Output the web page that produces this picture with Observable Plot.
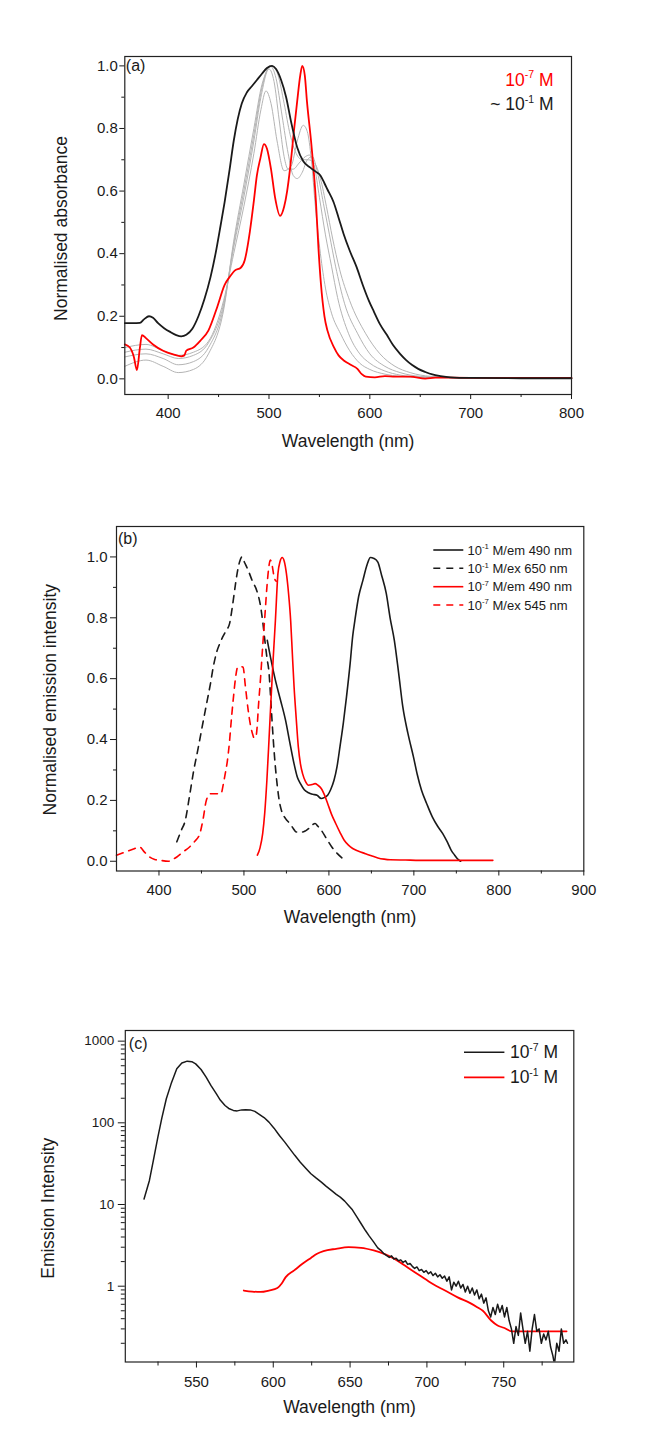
<!DOCTYPE html>
<html><head><meta charset="utf-8">
<script src="https://cdn.jsdelivr.net/npm/d3@7"></script>
<script src="https://cdn.jsdelivr.net/npm/@observablehq/plot@0.6"></script>
<style>
body{margin:0;background:#fff;}
#wrap{position:relative;width:657px;height:1432px;overflow:hidden;}
.panel{position:absolute;left:0;}
</style></head><body><div id="wrap"></div>
<script>
// ---------- Panel (a): normalised absorbance ----------
const absRed = [[357,0.11],[362,0.10],[366,0.07],[369,0.028],[372,0.10],[374,0.14],[378,0.13],[385,0.11],[395,0.09],[405,0.078],[413,0.072],[416,0.075],[418,0.09],[425,0.10],[432,0.122],[440,0.155],[448.6,0.229],[456,0.30],[462,0.33],[466,0.346],[472,0.355],[476,0.38],[481,0.47],[485,0.569],[488,0.65],[491.6,0.707],[495,0.75],[498,0.735],[502,0.67],[506,0.58],[511,0.521],[515,0.55],[518,0.60],[521,0.675],[525,0.80],[528,0.888],[531,0.97],[533,1.0],[535.5,0.97],[537.6,0.888],[542,0.75],[546.5,0.569],[549,0.42],[551.5,0.304],[555,0.20],[558,0.154],[564.6,0.10],[569,0.075],[574.5,0.058],[581,0.045],[587.7,0.032],[592,0.015],[596,0.007],[605,0.005],[615,0.009],[625,0.007],[640,0.007],[655,0.001],[665,0.004],[700,0.003],[800,0.003]];
const absBlack = [[357,0.178],[365,0.178],[372,0.179],[376,0.19],[381,0.200],[385,0.195],[390,0.178],[396,0.162],[402,0.150],[408,0.140],[413,0.136],[418,0.141],[424,0.16],[430,0.20],[436,0.255],[442,0.325],[447,0.40],[452,0.49],[456,0.565],[461,0.67],[465,0.76],[469,0.83],[473,0.88],[478,0.915],[483,0.935],[488,0.955],[493,0.975],[498,0.993],[503,1.0],[507,0.99],[512,0.955],[517,0.9],[522,0.82],[528,0.739],[534,0.695],[541,0.675],[546,0.663],[551,0.65],[555,0.625],[558,0.605],[564,0.565],[569,0.515],[574,0.463],[580,0.41],[587,0.356],[593,0.30],[599,0.25],[604,0.215],[610,0.175],[617,0.14],[623,0.108],[630,0.08],[636,0.06],[642,0.044],[648,0.032],[655,0.022],[662,0.014],[670,0.009],[680,0.005],[700,0.003],[750,0.002],[800,0.002]];
const absGray1 = [[357,0.10],[378,0.11],[395,0.09],[410,0.075],[425,0.085],[440,0.12],[455,0.25],[465,0.40],[475,0.55],[485,0.72],[492,0.86],[497,0.92],[502,0.88],[508,0.76],[515,0.665],[522,0.68],[528,0.76],[534,0.81],[538,0.79],[542,0.70],[546,0.55],[551,0.40],[556,0.29],[562,0.21],[571,0.144],[580,0.09],[590,0.05],[600,0.03],[615,0.015],[630,0.008],[660,0.004],[800,0.003]];
const absGray2 = [[357,0.085],[378,0.095],[395,0.08],[410,0.065],[425,0.075],[440,0.115],[455,0.24],[465,0.42],[475,0.58],[485,0.76],[492,0.90],[500,0.99],[505,0.95],[510,0.83],[515,0.71],[519,0.67],[524,0.67],[530,0.69],[536,0.71],[540,0.715],[545,0.68],[550,0.58],[556,0.46],[562,0.36],[568,0.26],[579,0.144],[590,0.08],[600,0.05],[615,0.025],[630,0.012],[650,0.006],[680,0.004],[800,0.003]];
const absGray3 = [[357,0.07],[378,0.08],[395,0.065],[410,0.045],[425,0.055],[440,0.10],[455,0.23],[465,0.43],[475,0.60],[485,0.78],[493,0.93],[501,1.0],[507,0.96],[513,0.84],[519,0.72],[524,0.65],[528,0.64],[533,0.66],[538,0.70],[543,0.71],[548,0.66],[554,0.56],[560,0.46],[566,0.36],[575,0.24],[588,0.144],[600,0.08],[615,0.04],[630,0.02],[650,0.008],[680,0.004],[800,0.003]];
const absGray4 = [[357,0.04],[378,0.06],[395,0.04],[410,0.02],[425,0.03],[440,0.08],[455,0.22],[465,0.44],[475,0.62],[485,0.80],[493,0.94],[503,1.0],[509,0.97],[515,0.88],[521,0.78],[527,0.72],[533,0.70],[539,0.70],[545,0.69],[551,0.64],[557,0.55],[563,0.45],[570,0.35],[580,0.25],[596,0.144],[610,0.08],[625,0.04],[640,0.02],[660,0.008],[690,0.004],[800,0.003]];
const legendA = ["10^-7 M", "~ 10^-1 M"];
const ticksAx = [400,500,600,700,800], minorAx = [450,550,650,750];
const ticksAy = [0,0.2,0.4,0.6,0.8,1.0], minorAy = [0.1,0.3,0.5,0.7,0.9];

// ---------- Panel (b): normalised emission ----------
const emBlackEm = [[527.5,0.726],[532,0.66],[537,0.595],[543,0.53],[549,0.463],[554,0.39],[559,0.32],[563,0.275],[566.5,0.255],[571,0.235],[576,0.225],[581,0.22],[586,0.217],[591,0.206],[595,0.21],[598.5,0.217],[602,0.235],[606,0.266],[609.5,0.31],[613,0.376],[617,0.455],[620.7,0.54],[625,0.65],[628,0.74],[630.5,0.79],[635,0.87],[640,0.923],[645,0.975],[648.8,0.998],[653,0.995],[657.6,0.983],[662,0.94],[667.5,0.88],[672,0.8],[677,0.726],[682,0.62],[687,0.507],[693,0.42],[699.5,0.343],[704,0.285],[709,0.233],[715,0.19],[721.7,0.146],[728,0.115],[734,0.091],[739,0.065],[744,0.036],[748,0.02],[751,0.009],[755,0.0]];
const emBlackEx = [[421,0.064],[426,0.1],[431,0.135],[436,0.215],[441,0.30],[446,0.37],[450.7,0.44],[455.5,0.51],[460.6,0.584],[464,0.64],[468,0.688],[471.5,0.715],[475,0.737],[479,0.758],[483,0.78],[485.5,0.82],[487.7,0.863],[490,0.91],[492.6,0.956],[495,0.985],[497.5,1.0],[501,0.98],[505,0.956],[510,0.92],[515,0.89],[519.7,0.836],[522,0.79],[524.6,0.726],[527,0.67],[529.6,0.617],[532,0.51],[534.5,0.40],[537,0.31],[539.4,0.244],[541.5,0.2],[544,0.168],[549,0.14],[554,0.124],[558,0.108],[561.6,0.096],[565,0.096],[569,0.096],[572.5,0.1],[576,0.107],[580,0.118],[583.7,0.124],[587,0.115],[591,0.102],[597,0.075],[603.4,0.047],[610,0.025],[618,0.005]];
const emRedEm = [[515.8,0.02],[519,0.045],[522,0.09],[524.5,0.16],[527,0.266],[529.5,0.4],[532,0.54],[534.5,0.67],[537,0.79],[540,0.945],[542.5,0.985],[545,0.998],[547.5,0.985],[550,0.945],[552.5,0.88],[555,0.79],[557,0.68],[559,0.573],[561.5,0.47],[564,0.376],[566.5,0.32],[569,0.288],[572.5,0.262],[576,0.25],[580,0.252],[583.7,0.255],[587,0.25],[591,0.239],[594.5,0.22],[598.5,0.19],[603,0.155],[608,0.124],[613,0.095],[618,0.069],[623,0.053],[628,0.042],[635,0.033],[643,0.025],[650,0.018],[657.6,0.011],[665,0.007],[672,0.005],[690,0.004],[707,0.003],[750,0.003],[793,0.003]];
const emRedEx = [[350,0.02],[360,0.03],[370,0.04],[377,0.047],[383,0.03],[389,0.014],[395,0.006],[401.5,0.003],[411,0.0],[416,0.006],[421,0.014],[428,0.03],[436,0.047],[442,0.065],[448,0.09],[452,0.14],[455.7,0.20],[460.6,0.222],[466,0.222],[473,0.222],[475.5,0.25],[478,0.288],[480.5,0.33],[482.8,0.387],[485,0.46],[487.7,0.54],[490,0.6],[492.6,0.638],[496,0.64],[499,0.638],[501.5,0.58],[505,0.496],[507.5,0.45],[510,0.42],[512,0.405],[514,0.408],[515.5,0.44],[517,0.507],[519.5,0.6],[522,0.704],[524.5,0.8],[527,0.90],[529,0.96],[531,0.99],[533,0.975],[535.5,0.934],[538,0.92]];
const legendB = ["10^-1 M/em 490 nm", "10^-1 M/ex 650 nm", "10^-7 M/em 490 nm", "10^-7 M/ex 545 nm"];
const ticksBx = [400,500,600,700,800,900], minorBx = [450,550,650,750,850];
const ticksBy = [0,0.2,0.4,0.6,0.8,1.0], minorBy = [0.1,0.3,0.5,0.7,0.9];

// ---------- Panel (c): emission intensity (log) ----------
const intBlack = [[515.9,11.7],[519.4,19.7],[522,35],[524.9,66.7],[527.5,115],[530.4,197],[533.5,300],[537.2,458],[540.5,540],[544,569],[547,560],[549.5,527],[553,450],[556.3,362],[559.5,285],[563,226],[565.5,190],[568.6,163],[571,150],[574,142],[576.5,140],[579.5,144],[582,145],[585,144],[588,138],[590.4,129],[594,116],[597.2,102],[600.5,86],[604,70],[607.5,58],[610.8,48],[614,40],[617.6,33],[621,28],[624.5,23.8],[628,21],[631.3,18.8],[634.5,16.7],[638,14.8],[641,13.3],[643.6,12.3],[646.5,11],[649,9.7],[651.5,8.6],[654.5,7.0],[657,5.9],[660,4.8],[662.5,4.1],[665.4,3.46],[668,2.95],[670,2.75],[672,2.5],[673.6,2.38],
 [675.5,2.25],[677,2.35],[678.5,2.15],[680,2.2],[681.5,2.05],[683,2.1],[684.5,1.95],[686,2.05],[687.5,1.85],[689,1.9],[690.5,1.75],[692,1.65],[693.5,1.72],[695,1.55],[696.5,1.6],[698,1.48],[699.5,1.55],[701,1.42],[702.5,1.5],[704,1.35],[705.5,1.44],[707,1.3],[708.5,1.38],[710,1.25],[711.5,1.33],[713,1.15],[714.5,1.3],[716,0.9],[717.5,1.12],[719,1.0],[720.5,1.15],[722,0.95],[723.5,1.05],[725,0.85],[726.5,1.0],[728,0.82],[729.5,0.95],[731,0.78],[732.5,0.9],[734,0.7],[735.5,0.8],[737,0.62],[738.5,0.72],[740,0.5],[741.5,0.42],[743,0.55],[744.5,0.45],[746,0.6],[747.5,0.48],[749,0.58],[750.5,0.42],[752,0.55],[753.5,0.38],[755,0.3],[756.5,0.2],[758,0.32],[759.5,0.25],[761,0.47],[762.5,0.3],[764,0.2],[765.5,0.28],[767,0.16],[768.5,0.3],[770,0.45],[771.5,0.28],[773,0.3],[774.5,0.2],[776,0.26],[777.5,0.22],[779,0.28],[780.5,0.18],[782,0.14],[783,0.11],[784.5,0.2],[786,0.16],[787.5,0.3],[789,0.2],[790.5,0.22],[791.5,0.2]];
const intRed = [[580.8,0.885],[586.3,0.86],[591.7,0.85],[597.2,0.885],[602.7,0.95],[605.5,1.08],[608.1,1.29],[613.6,1.56],[619,1.88],[624.5,2.22],[628.5,2.5],[632.7,2.69],[640.9,2.87],[649,3.0],[657.2,2.95],[665.4,2.74],[672.2,2.49],[679,2.16],[687.2,1.71],[695.4,1.35],[703.6,1.07],[711.8,0.885],[720,0.73],[728.2,0.62],[733,0.55],[736.4,0.5],[741.8,0.38],[746,0.33],[750,0.31],[755.5,0.28],[790.9,0.28]];
const legendC = ["10^-7 M", "10^-1 M"];
const ticksCx = [550,600,650,700,750], minorCx = [525,575,625,675,725,775];
const ticksCy = [1,10,100,1000], minorCy = [0.2,0.3,0.4,0.5,0.6,0.7,0.8,0.9,2,3,4,5,6,7,8,9,20,30,40,50,60,70,80,90,200,300,400,500,600,700,800,900];

// ---------- helpers ----------
const FONT = '"Liberation Sans", Arial, Helvetica, sans-serif';
const RED = "#ff0000", INK = "#1a1a1a", GRAY = "#b4b4b4";
const rows = a => a.map(([x, y]) => ({x, y}));
const wrap = document.getElementById("wrap");

function mount(svg, top) {
  const d = document.createElement("div");
  d.className = "panel"; d.style.top = top + "px";
  d.append(svg); wrap.append(d);
  supify(svg);
  return svg;
}
function supify(svg) {
  const ns = "http://www.w3.org/2000/svg";
  svg.querySelectorAll("text").forEach(t => {
    if (t.querySelector("tspan")) return;
    const m = t.textContent.match(/^(.*?10)\^(-\d)(.*)$/);
    if (!m) return;
    const fs = parseFloat(getComputedStyle(t).fontSize);
    t.textContent = "";
    const a = document.createElementNS(ns, "tspan"); a.textContent = m[1];
    const b = document.createElementNS(ns, "tspan"); b.textContent = m[2];
    b.setAttribute("font-size", (fs * 0.6).toFixed(2)); b.setAttribute("dy", (-fs * 0.42).toFixed(2));
    const c = document.createElementNS(ns, "tspan"); c.textContent = m[3];
    c.setAttribute("dy", (fs * 0.42).toFixed(2));
    t.append(a, b, c);
  });
}
function swatches(svg, styles, x1, x2, ys) {
  const g = d3.select(svg).append("g");
  styles.forEach((s, i) => g.append("line")
    .attr("x1", x1).attr("x2", x2).attr("y1", ys[i]).attr("y2", ys[i])
    .attr("stroke", s.stroke).attr("stroke-width", s.width)
    .attr("stroke-dasharray", s.dash || null));
}
function axes(tx, mx, ty, my, o = {}) {
  return [
    Plot.axisX({ticks: tx, tickSize: o.xt || 5, tickPadding: 8, label: null, fontSize: 15, tickFormat: d => String(d)}),
    Plot.axisX({ticks: mx, tickSize: o.xm || 3, label: null, tickFormat: () => ""}),
    Plot.axisY({ticks: ty, tickSize: o.yt || 5, tickPadding: o.yp || 2, label: null, fontSize: o.yf || 15, tickFormat: o.yfmt || (d => d.toFixed(1))}),
    Plot.axisY({ticks: my, tickSize: o.ym || 3, label: null, tickFormat: () => ""})
  ];
}
const baseStyle = {fontFamily: FONT, fontSize: "15px", color: INK, background: "#fff", overflow: "visible"};

// ---------- Panel (a) ----------
const pa = Plot.plot({
  width: 657, height: 470,
  marginTop: 56, marginBottom: 76, marginLeft: 124.3, marginRight: 86,
  style: baseStyle,
  x: {domain: [357, 800], label: null},
  y: {domain: [-0.05, 1.03], label: null},
  marks: [
    ...[absGray1, absGray2, absGray3, absGray4].map(g => Plot.line(rows(g), {x: "x", y: "y", stroke: GRAY, strokeWidth: 1, curve: "monotone-x"})),
    Plot.line(rows(absRed), {x: "x", y: "y", stroke: RED, strokeWidth: 1.8, curve: "monotone-x"}),
    Plot.line(rows(absBlack), {x: "x", y: "y", stroke: INK, strokeWidth: 1.8, curve: "monotone-x"}),
    Plot.frame({stroke: "#222", strokeWidth: 1.2}),
    ...axes(ticksAx, minorAx, ticksAy, minorAy),
    Plot.text(["(a)"], {frameAnchor: "top-left", textAnchor: "start", lineAnchor: "middle", dx: 1, dy: 9, fontSize: 16}),
    Plot.text([legendA[0]], {frameAnchor: "top-right", textAnchor: "end", lineAnchor: "middle", dx: -18, dy: 23.5, fontSize: 17.5, fill: RED}),
    Plot.text([legendA[1]], {frameAnchor: "top-right", textAnchor: "end", lineAnchor: "middle", dx: -18, dy: 48.2, fontSize: 17.5, fill: INK}),
    Plot.text(["Wavelength (nm)"], {frameAnchor: "bottom", textAnchor: "middle", lineAnchor: "middle", dy: 47, fontSize: 17.5}),
    Plot.text(["Normalised absorbance"], {frameAnchor: "left", textAnchor: "middle", lineAnchor: "middle", rotate: -90, dx: -63.6, dy: 3, fontSize: 17.5})
  ]
});
mount(pa, 0);

// ---------- Panel (b) ----------
const bStyles = [
  {stroke: INK, width: 1.6, dash: null},
  {stroke: INK, width: 1.6, dash: "7,6"},
  {stroke: RED, width: 1.6, dash: null},
  {stroke: RED, width: 1.6, dash: "7,6"}
];
const bSeries = [emBlackEm, emBlackEx, emRedEm, emRedEx];
const bRowDy = [24, 42.3, 60.7, 79];
const pb = Plot.plot({
  width: 657, height: 480,
  marginTop: 56, marginBottom: 79.5, marginLeft: 116, marginRight: 73.7,
  style: baseStyle,
  x: {domain: [350, 900], label: null},
  y: {domain: [-0.032, 1.10], label: null},
  marks: [
    ...bSeries.map((s, i) => Plot.line(rows(s), {x: "x", y: "y", stroke: bStyles[i].stroke, strokeWidth: bStyles[i].width, strokeDasharray: bStyles[i].dash, curve: "monotone-x"})),
    Plot.frame({stroke: "#222", strokeWidth: 1.2}),
    ...axes(ticksBx, minorBx, ticksBy, minorBy, {yt: 6, yp: 3}),
    Plot.text(["(b)"], {frameAnchor: "top-left", textAnchor: "start", lineAnchor: "middle", dx: 1.5, dy: 12.3, fontSize: 16}),
    ...legendB.map((t, i) => Plot.text([t], {frameAnchor: "top-right", textAnchor: "start", lineAnchor: "middle", dx: -116.3, dy: bRowDy[i], fontSize: 13})),
    Plot.text(["Wavelength (nm)"], {frameAnchor: "bottom", textAnchor: "middle", lineAnchor: "middle", dy: 46.5, fontSize: 17.5}),
    Plot.text(["Normalised emission intensity"], {frameAnchor: "left", textAnchor: "middle", lineAnchor: "middle", rotate: -90, dx: -66, dy: 1, fontSize: 17.5})
  ]
});
mount(pb, 470);
swatches(pb, bStyles, 657 - 73.7 - 150, 657 - 73.7 - 120, bRowDy.map(d => 56 + d));

// ---------- Panel (c) ----------
const cStyles = [{stroke: INK, width: 1.5}, {stroke: RED, width: 1.8}];
const cRowDy = [22.3, 47.3];
const pc = Plot.plot({
  width: 657, height: 452,
  marginTop: 50, marginBottom: 70.5, marginLeft: 124.8, marginRight: 83.7,
  style: baseStyle,
  x: {domain: [503.7, 795.6], label: null},
  y: {type: "log", domain: [0.118, 1350], label: null},
  marks: [
    Plot.line(rows(intRed), {x: "x", y: "y", stroke: cStyles[1].stroke, strokeWidth: cStyles[1].width, curve: "monotone-x", clip: true}),
    Plot.line(rows(intBlack), {x: "x", y: "y", stroke: cStyles[0].stroke, strokeWidth: cStyles[0].width, curve: "linear", clip: true}),
    Plot.frame({stroke: "#222", strokeWidth: 1.2}),
    ...axes(ticksCx, minorCx, ticksCy, minorCy, {xt: 6, xm: 4, yt: 7, ym: 4, yp: 4, yf: 13.5, yfmt: d => String(d)}),
    Plot.text(["(c)"], {frameAnchor: "top-left", textAnchor: "start", lineAnchor: "middle", dx: 3.5, dy: 13.5, fontSize: 16}),
    ...legendC.map((t, i) => Plot.text([t], {frameAnchor: "top-right", textAnchor: "start", lineAnchor: "middle", dx: -63.9, dy: cRowDy[i], fontSize: 17.5})),
    Plot.text(["Wavelength (nm)"], {frameAnchor: "bottom", textAnchor: "middle", lineAnchor: "middle", dy: 45, fontSize: 17.5}),
    Plot.text(["Emission Intensity"], {frameAnchor: "left", textAnchor: "middle", lineAnchor: "middle", rotate: -90, dx: -76.5, dy: 12, fontSize: 17.5})
  ]
});
mount(pc, 980);
swatches(pc, cStyles, 657 - 83.7 - 109.3, 657 - 83.7 - 68.9, cRowDy.map(d => 50 + d));
</script>
</body></html>
